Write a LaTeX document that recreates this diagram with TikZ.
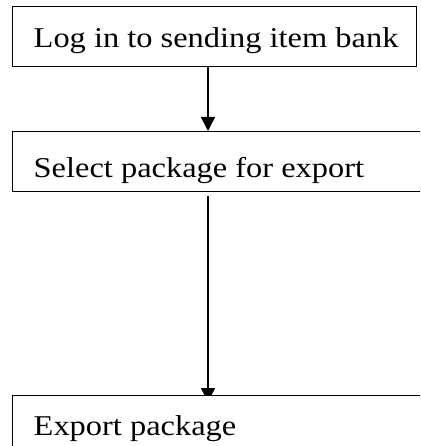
\documentclass[tikz,border=0pt]{standalone}
\usepackage{fontspec}
\setmainfont[FakeStretch=1.13]{Liberation Serif}
\usetikzlibrary{arrows.meta,backgrounds}
\begin{document}
\begin{tikzpicture}[x=1pt,y=-1pt,
  stepbox/.style={draw=black, fill=white, line width=1.4pt, anchor=north west, inner xsep=21pt, inner ysep=0pt,
    minimum height=60pt, text depth=0pt, font=\fontsize{28.7}{32}\selectfont},
  flow/.style={draw=black, line width=1.4pt, -{Triangle[width=14pt,length=14pt]}}]
\useasboundingbox (0,0) rectangle (420,446);
\clip (0,0) rectangle (420,446);
\node[stepbox, text height=22pt] (a) at (12,6) {\makebox[362pt][l]{Log in to sending item bank}};
\node[stepbox, text height=32pt] (b) at (12,131) {\makebox[376pt][l]{Select package for export}};
\node[stepbox, text height=20pt] (c) at (12,395) {\makebox[376pt][l]{Export package}};
\coordinate (ax) at (208,0);
\begin{scope}[on background layer]
\draw[flow] (a.south -| ax) -- (b.north -| ax);
\draw[flow, shorten <=4pt, shorten >=-7pt] (b.south -| ax) -- (c.north -| ax);
\end{scope}
\end{tikzpicture}
\end{document}
